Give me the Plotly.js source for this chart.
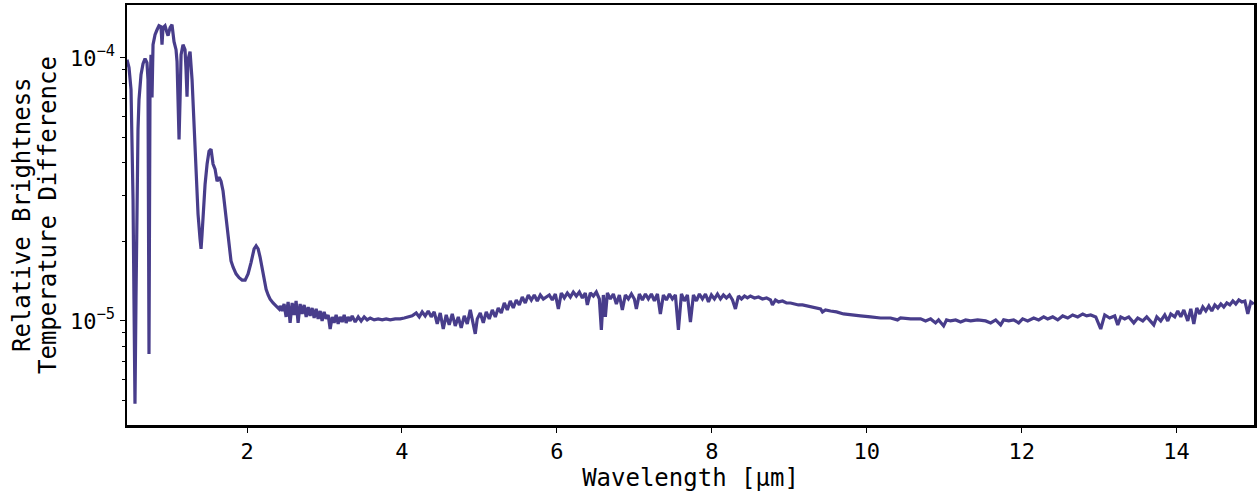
<!DOCTYPE html>
<html>
<head>
<meta charset="utf-8">
<script src="https://cdn.plot.ly/plotly-3.0.1.min.js"></script>
<style>html,body{margin:0;padding:0;background:#fff;}#chart{width:1258px;height:495px;}</style>
</head>
<body>
<div id="chart"></div>
<script>
// Wavelength in micrometres
const wavelength = [
0.450,0.476,0.502,0.515,0.528,0.540,0.553,0.566,0.579,0.592,0.605,0.631,0.657,0.683,0.708,0.721,0.734,0.747,0.760,0.773,
0.786,0.812,0.838,0.863,0.889,0.902,0.915,0.941,0.967,0.980,1.006,1.031,1.057,1.083,1.096,1.109,1.122,1.135,1.148,1.173,
1.199,1.212,1.225,1.238,1.264,1.290,1.303,1.316,1.329,1.341,1.367,1.393,1.406,1.419,1.432,1.458,1.484,1.509,1.535,1.561,
1.587,1.613,1.639,1.664,1.690,1.716,1.742,1.768,1.793,1.820,1.858,1.897,1.936,1.975,2.013,2.052,2.091,2.117,2.143,2.168,
2.194,2.220,2.246,2.272,2.298,2.336,2.375,2.414,
2.427,2.453,2.478,2.504,2.530,2.556,2.582,2.608,2.633,2.659,2.685,2.711,2.737,2.763,2.789,2.814,2.840,2.866,2.892,2.918,
2.944,2.969,2.995,3.021,3.047,3.073,3.099,3.124,3.150,3.176,3.202,3.228,3.254,3.279,3.305,3.331,3.357,3.396,3.435,3.473,
3.512,3.551,3.590,3.641,3.693,3.745,3.796,3.848,3.913,3.977,4.029,4.081,4.132,4.184,4.223,4.261,4.300,4.339,4.378,4.416,
4.455,4.494,4.533,4.571,4.610,4.649,4.688,4.727,4.765,4.804,4.843,4.882,4.920,4.946,4.972,5.011,5.050,5.088,5.127,5.166,
5.205,5.243,5.282,5.321,5.360,5.398,5.437,5.476,5.515,5.553,5.592,5.631,5.670,5.708,5.747,5.786,5.825,5.863,5.902,5.941,
5.980,6.019,6.057,6.096,6.135,6.174,6.212,6.251,6.290,6.329,6.367,6.393,6.432,6.471,6.509,6.548,6.574,6.600,6.626,6.652,
6.690,6.729,6.768,6.807,6.845,6.884,6.923,6.962,7.000,7.026,7.065,7.104,7.143,7.181,7.220,7.259,7.298,7.336,7.375,7.414,
7.453,7.491,7.530,7.569,7.608,7.646,7.685,7.724,7.763,7.801,7.840,7.879,7.918,7.957,7.995,8.034,8.073,8.112,8.150,8.189,
8.228,8.267,8.305,8.344,8.383,8.422,8.460,8.499,8.551,8.603,8.654,8.706,8.758,8.783,8.822,8.861,8.913,8.964,9.016,9.068,
9.119,9.171,9.223,9.274,9.339,9.404,9.429,9.468,9.533,9.610,9.701,9.791,9.920,10.050,10.179,10.308,10.398,10.437,10.566,10.696,
10.760,10.825,10.889,10.928,10.993,11.031,11.083,11.148,11.212,11.277,11.342,11.432,11.535,11.600,11.665,11.729,11.768,11.833,11.897,11.962,
12.013,12.078,12.156,12.220,12.285,12.336,12.401,12.466,12.530,12.595,12.659,12.724,12.789,12.840,12.892,12.957,13.021,13.073,13.137,13.202,
13.241,13.280,13.331,13.383,13.448,13.499,13.564,13.615,13.667,13.706,13.745,13.796,13.848,13.887,13.926,13.977,14.016,14.055,14.094,14.145,
14.184,14.223,14.261,14.300,14.339,14.378,14.417,14.455,14.494,14.533,14.572,14.610,14.649,14.688,14.727,14.765,14.804,14.843,14.882,14.920,
14.959,14.998
];

// Relative brightness temperature difference
const brightnessDiff = [
9.85e-5,9.19e-5,7.58e-5,5.34e-5,2.90e-5,1.21e-5,4.84e-6,1.21e-5,2.90e-5,5.34e-5,6.95e-5,8.64e-5,9.51e-5,9.94e-5,9.60e-5,8.27e-5,7.49e-6,7.58e-5,1.029e-4,7.07e-5,
1.123e-4,1.226e-4,1.280e-4,1.326e-4,1.315e-4,1.123e-4,1.303e-4,1.326e-4,1.248e-4,1.215e-4,1.303e-4,1.338e-4,1.153e-4,1.075e-4,9.68e-5,6.95e-5,4.90e-5,6.95e-5,1.029e-4,1.123e-4,
1.075e-4,9.03e-5,7.13e-5,9.85e-5,1.057e-4,8.27e-5,6.65e-5,5.34e-5,4.30e-5,3.45e-5,2.55e-5,2.05e-5,1.88e-5,2.14e-5,2.55e-5,3.31e-5,3.95e-5,4.42e-5,4.50e-5,3.95e-5,
3.78e-5,3.40e-5,3.52e-5,3.40e-5,3.12e-5,2.66e-5,2.24e-5,1.88e-5,1.69e-5,1.60e-5,1.51e-5,1.46e-5,1.43e-5,1.43e-5,1.51e-5,1.67e-5,1.88e-5,1.93e-5,1.88e-5,1.75e-5,
1.60e-5,1.44e-5,1.32e-5,1.255e-5,1.21e-5,1.17e-5,1.14e-5,1.11e-5,
1.140e-5,1.091e-5,1.160e-5,1.036e-5,1.181e-5,0.983e-5,1.170e-5,1.054e-5,1.191e-5,0.983e-5,1.160e-5,1.063e-5,1.150e-5,1.036e-5,1.130e-5,1.045e-5,1.120e-5,1.026e-5,1.111e-5,1.018e-5,
1.091e-5,1.000e-5,1.082e-5,1.018e-5,1.054e-5,0.932e-5,1.036e-5,0.983e-5,1.054e-5,0.974e-5,1.036e-5,0.991e-5,1.054e-5,0.983e-5,1.036e-5,1.000e-5,1.045e-5,0.991e-5,1.036e-5,1.000e-5,
1.036e-5,1.009e-5,1.026e-5,1.009e-5,1.018e-5,1.009e-5,1.018e-5,1.009e-5,1.018e-5,1.018e-5,1.026e-5,1.036e-5,1.045e-5,1.072e-5,1.036e-5,1.082e-5,1.045e-5,1.091e-5,1.036e-5,1.082e-5,
0.974e-5,1.072e-5,0.932e-5,1.054e-5,0.966e-5,1.063e-5,0.957e-5,1.036e-5,0.941e-5,1.045e-5,0.974e-5,1.101e-5,0.966e-5,0.893e-5,1.018e-5,1.072e-5,0.983e-5,1.082e-5,1.018e-5,1.101e-5,
1.036e-5,1.120e-5,1.072e-5,1.170e-5,1.101e-5,1.191e-5,1.120e-5,1.201e-5,1.150e-5,1.233e-5,1.170e-5,1.255e-5,1.201e-5,1.255e-5,1.191e-5,1.255e-5,1.212e-5,1.233e-5,1.255e-5,1.201e-5,
1.266e-5,1.111e-5,1.277e-5,1.223e-5,1.277e-5,1.233e-5,1.288e-5,1.244e-5,1.288e-5,1.223e-5,1.277e-5,1.150e-5,1.277e-5,1.244e-5,1.288e-5,1.212e-5,0.924e-5,1.255e-5,1.036e-5,1.277e-5,
1.212e-5,1.266e-5,1.160e-5,1.255e-5,1.101e-5,1.255e-5,1.212e-5,1.266e-5,1.212e-5,1.111e-5,1.266e-5,1.201e-5,1.266e-5,1.212e-5,1.266e-5,1.191e-5,1.266e-5,1.063e-5,1.255e-5,1.201e-5,
1.266e-5,1.212e-5,1.255e-5,0.924e-5,1.266e-5,1.191e-5,1.255e-5,0.991e-5,1.255e-5,1.191e-5,1.266e-5,1.212e-5,1.266e-5,1.181e-5,1.255e-5,1.212e-5,1.266e-5,1.212e-5,1.255e-5,1.223e-5,
1.255e-5,1.201e-5,1.111e-5,1.244e-5,1.212e-5,1.244e-5,1.223e-5,1.244e-5,1.223e-5,1.233e-5,1.212e-5,1.223e-5,1.201e-5,1.150e-5,1.201e-5,1.181e-5,1.191e-5,1.170e-5,1.170e-5,1.160e-5,
1.150e-5,1.150e-5,1.140e-5,1.130e-5,1.120e-5,1.111e-5,1.082e-5,1.101e-5,1.091e-5,1.082e-5,1.063e-5,1.054e-5,1.045e-5,1.036e-5,1.026e-5,1.026e-5,1.009e-5,1.026e-5,1.018e-5,1.018e-5,
1.000e-5,1.018e-5,0.983e-5,1.009e-5,0.957e-5,1.009e-5,1.000e-5,1.009e-5,0.991e-5,1.009e-5,1.000e-5,1.009e-5,1.000e-5,0.983e-5,1.009e-5,0.966e-5,1.009e-5,1.000e-5,1.009e-5,0.983e-5,
1.018e-5,1.000e-5,1.026e-5,1.009e-5,1.036e-5,1.018e-5,1.036e-5,1.009e-5,1.045e-5,1.026e-5,1.054e-5,1.036e-5,1.063e-5,1.045e-5,1.054e-5,1.036e-5,0.932e-5,1.054e-5,1.026e-5,1.045e-5,
0.966e-5,1.036e-5,1.018e-5,1.036e-5,0.983e-5,1.026e-5,1.000e-5,1.036e-5,0.991e-5,0.966e-5,1.036e-5,1.000e-5,1.054e-5,1.000e-5,1.063e-5,1.036e-5,1.091e-5,1.036e-5,1.101e-5,1.000e-5,
1.111e-5,0.974e-5,1.120e-5,1.063e-5,1.130e-5,1.091e-5,1.140e-5,1.091e-5,1.150e-5,1.120e-5,1.160e-5,1.130e-5,1.170e-5,1.150e-5,1.191e-5,1.160e-5,1.201e-5,1.181e-5,1.191e-5,1.063e-5,
1.181e-5,1.160e-5
];

const yTickVals = [1e-5, 1e-4];
const yTickText = ['10<sup>−5</sup>', '10<sup>−4</sup>'];
const xTickVals = [2, 4, 6, 8, 10, 12, 14];
const yTitleLines = ['Relative Brightness', 'Temperature Difference'];

const FONT = 'DejaVu Sans Mono, monospace';

const trace = {
  x: wavelength,
  y: brightnessDiff,
  type: 'scatter',
  mode: 'lines',
  line: {color: '#483D8B', width: 3.2},
  hoverinfo: 'skip'
};

const minorVals = [];
[1e-6, 1e-5, 1e-4].forEach(dec => { for (let k = 2; k <= 9; k++) minorVals.push(k * dec); });

// y-axis title drawn as two rotated lines (tighter line spacing than Plotly's default)
const plotW = 1258 - 127 - 4;
const yTitleX = [22, 48];
const annotations = yTitleLines.map((t, i) => ({
  text: t,
  xref: 'paper', yref: 'paper',
  x: (yTitleX[i] - 127) / plotW, y: 0.5,
  xanchor: 'center', yanchor: 'middle',
  textangle: -90,
  showarrow: false,
  font: {family: FONT, size: 24, color: '#000'}
}));

const layout = {
  width: 1258,
  height: 495,
  margin: {l: 127, r: 4, t: 5, b: 70},
  paper_bgcolor: '#ffffff',
  plot_bgcolor: '#ffffff',
  showlegend: false,
  font: {family: FONT, color: '#000000', size: 22},
  annotations: annotations,
  xaxis: {
    range: [0.45, 15.0],
    tickvals: xTickVals,
    ticktext: xTickVals.map(String),
    ticks: 'outside',
    ticklen: 5,
    tickwidth: 1,
    tickcolor: '#000',
    showline: true,
    mirror: true,
    linecolor: '#000',
    linewidth: 2.5,
    showgrid: false,
    zeroline: false,
    tickfont: {family: FONT, size: 22, color: '#000'},
    title: {text: 'Wavelength [µm]', font: {family: FONT, size: 24, color: '#000'}, standoff: 6}
  },
  yaxis: {
    type: 'log',
    range: [Math.log10(4.02e-6), Math.log10(1.59e-4)],
    tickvals: yTickVals,
    ticktext: yTickText,
    ticks: 'outside',
    ticklen: 5,
    tickwidth: 1,
    tickcolor: '#000',
    minor: {tickmode: 'array', tickvals: minorVals, ticks: 'outside', ticklen: 3, tickcolor: '#000', tickwidth: 1, showgrid: false},
    showline: true,
    mirror: true,
    linecolor: '#000',
    linewidth: 2.5,
    showgrid: false,
    zeroline: false,
    tickfont: {family: FONT, size: 22, color: '#000'}
  }
};

Plotly.newPlot('chart', [trace], layout, {displayModeBar: false, staticPlot: true});
</script>
</body>
</html>
